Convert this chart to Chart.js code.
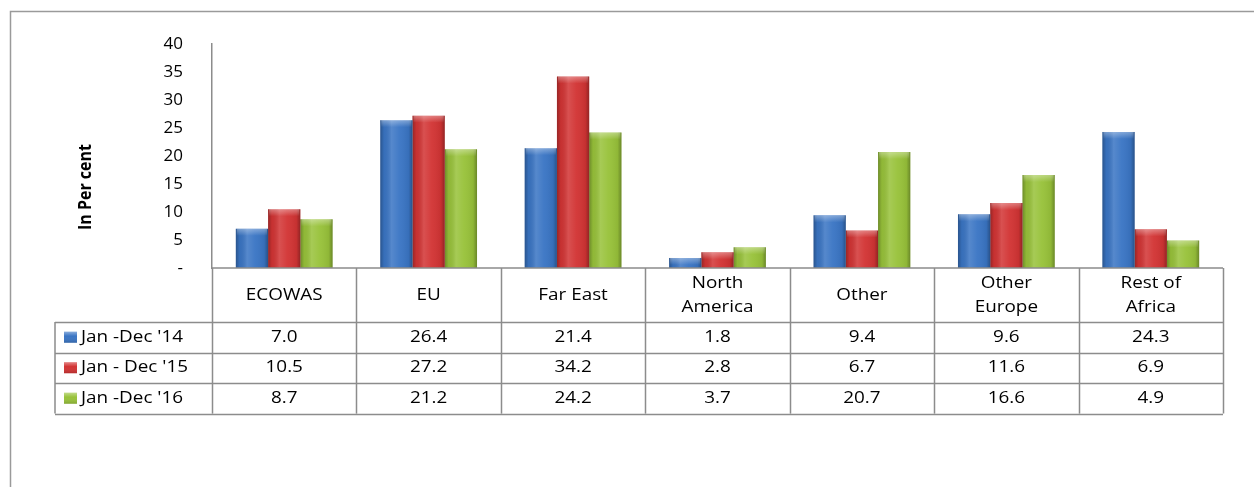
<!DOCTYPE html>
<html>
<head>
    <title>Non-oil exports by destination</title>
    <script src="https://cdn.jsdelivr.net/npm/chart.js"></script>
    <style>
        html, body { margin: 0; padding: 0; background: #fff; }
        #wrap { width: 1254px; height: 487px; position: relative; }
    </style>
</head>
<body>
    <div id="wrap">
        <canvas id="exportChart" width="1254" height="487"></canvas>
    </div>

    <script>
        // Data
        const categories = ['ECOWAS', 'EU', 'Far East', ['North', 'America'], 'Other', ['Other', 'Europe'], ['Rest of', 'Africa']];
        const seriesNames = ["Jan -Dec '14", "Jan - Dec '15", "Jan -Dec '16"];
        const values14 = [7.0, 26.4, 21.4, 1.8, 9.4, 9.6, 24.3];
        const values15 = [10.5, 27.2, 34.2, 2.8, 6.7, 11.6, 6.9];
        const values16 = [8.7, 21.2, 24.2, 3.7, 20.7, 16.6, 4.9];
        const yTicks = [0, 5, 10, 15, 20, 25, 30, 35, 40];
        const yTitle = 'In Per cent';

        const colors = ['#3a75c4', '#d23434', '#98c23a'];
        const FONT = '"Open Sans", "Liberation Sans", sans-serif';
        const GRID = '#8c8c8c';

        // glossy look on top of each bar, using the bar geometry from Chart.js
        const glossPlugin = {
            id: 'gloss',
            afterDatasetsDraw(chart) {
                const ctx = chart.ctx;
                chart.data.datasets.forEach((ds, di) => {
                    const meta = chart.getDatasetMeta(di);
                    meta.data.forEach(bar => {
                        const left = bar.x - bar.width / 2;
                        const top = bar.y;
                        const h = bar.base - bar.y;
                        const g = ctx.createLinearGradient(left, 0, left + bar.width, 0);
                        g.addColorStop(0, 'rgba(0,0,0,0.28)');
                        g.addColorStop(0.12, 'rgba(0,0,0,0.05)');
                        g.addColorStop(0.35, 'rgba(255,255,255,0.14)');
                        g.addColorStop(0.6, 'rgba(255,255,255,0.04)');
                        g.addColorStop(0.88, 'rgba(0,0,0,0.06)');
                        g.addColorStop(1, 'rgba(0,0,0,0.3)');
                        ctx.save();
                        ctx.fillStyle = g;
                        ctx.fillRect(left, top, bar.width, h);
                        const capH = Math.min(7, h);
                        const cap = ctx.createLinearGradient(0, top, 0, top + capH);
                        cap.addColorStop(0, 'rgba(255,255,255,0.35)');
                        cap.addColorStop(1, 'rgba(255,255,255,0)');
                        ctx.fillStyle = cap;
                        ctx.fillRect(left + 1, top, bar.width - 2, capH);
                        ctx.restore();
                    });
                });
            }
        };

        // outer frame, y title and the data table under the plot
        const tablePlugin = {
            id: 'dataTable',
            beforeDraw(chart) {
                const ctx = chart.ctx;
                ctx.save();
                ctx.strokeStyle = '#9a9a9a';
                ctx.lineWidth = 1.5;
                ctx.beginPath();
                ctx.moveTo(10.5, 487);
                ctx.lineTo(10.5, 11.5);
                ctx.lineTo(1254, 11.5);
                ctx.stroke();
                ctx.restore();
            },
            afterDraw(chart) {
                const ctx = chart.ctx;
                const xs = chart.scales.x;
                const area = chart.chartArea;
                const n = categories.length;
                const colW = (area.right - area.left) / n;
                const top = area.bottom;
                const headerBottom = top + 54;
                const rowH = 30.5;
                const tableBottom = headerBottom + rowH * seriesNames.length;
                const legendLeft = 55;

                const stretchText = (txt, x, y) => {
                    ctx.save();
                    ctx.translate(x, y);
                    ctx.scale(1.18, 1);
                    ctx.fillText(txt, 0, 0);
                    ctx.restore();
                };

                ctx.save();
                ctx.strokeStyle = GRID;
                ctx.lineWidth = 1.5;
                ctx.beginPath();
                // top line (category axis)
                ctx.moveTo(area.left, top);
                ctx.lineTo(area.right, top);
                // vertical dividers
                for (let i = 0; i <= n; i++) {
                    const x = Math.round(area.left + i * colW) + 0.5;
                    ctx.moveTo(x, top);
                    ctx.lineTo(x, tableBottom);
                }
                ctx.moveTo(legendLeft, headerBottom);
                ctx.lineTo(legendLeft, tableBottom);
                // horizontal rows
                for (let r = 0; r <= seriesNames.length; r++) {
                    const y = Math.round(headerBottom + r * rowH) + 0.5;
                    ctx.moveTo(legendLeft, y);
                    ctx.lineTo(area.right, y);
                }
                ctx.stroke();

                ctx.fillStyle = '#000';
                ctx.font = '16px ' + FONT;
                ctx.textAlign = 'center';
                ctx.textBaseline = 'middle';

                // header labels
                categories.forEach((lab, i) => {
                    const cx = xs.getPixelForValue(i);
                    const mid = (top + headerBottom) / 2;
                    if (Array.isArray(lab)) {
                        stretchText(lab[0], cx, mid - 12);
                        stretchText(lab[1], cx, mid + 12);
                    } else {
                        stretchText(lab, cx, mid);
                    }
                });

                // rows
                const allValues = [values14, values15, values16];
                allValues.forEach((vals, r) => {
                    const cy = headerBottom + (r + 0.5) * rowH;
                    ctx.textAlign = 'center';
                    vals.forEach((v, i) => {
                        stretchText(v.toFixed(1), xs.getPixelForValue(i), cy);
                    });
                    // legend key
                    const kx = 64, kw = 13, kh = 11;
                    ctx.fillStyle = colors[r];
                    ctx.fillRect(kx, cy - kh / 2, kw, kh);
                    const kg = ctx.createLinearGradient(0, cy - kh / 2, 0, cy + kh / 2);
                    kg.addColorStop(0, 'rgba(255,255,255,0.4)');
                    kg.addColorStop(0.4, 'rgba(255,255,255,0)');
                    kg.addColorStop(1, 'rgba(0,0,0,0.15)');
                    ctx.fillStyle = kg;
                    ctx.fillRect(kx, cy - kh / 2, kw, kh);
                    ctx.fillStyle = '#000';
                    ctx.textAlign = 'left';
                    stretchText(seriesNames[r], 81, cy);
                    ctx.textAlign = 'center';
                });

                // y axis title
                ctx.font = 'bold 16px ' + FONT;
                ctx.translate(86, 187);
                ctx.rotate(-Math.PI / 2);
                ctx.scale(1, 1.1);
                ctx.fillText(yTitle, 0, 0);
                ctx.restore();
            }
        };

        const ctx = document.getElementById('exportChart').getContext('2d');
        const exportChart = new Chart(ctx, {
            type: 'bar',
            data: {
                labels: categories,
                datasets: [values14, values15, values16].map((vals, i) => ({
                    label: seriesNames[i],
                    data: vals,
                    backgroundColor: colors[i],
                    borderWidth: 0,
                    categoryPercentage: 0.67,
                    barPercentage: 1.0
                }))
            },
            options: {
                responsive: false,
                animation: false,
                layout: { padding: { left: 0, right: 31, top: 44, bottom: 219 } },
                plugins: {
                    legend: { display: false },
                    tooltip: { enabled: false }
                },
                scales: {
                    x: { display: false },
                    y: {
                        min: 0,
                        max: 40,
                        afterFit: (scale) => { scale.width = 212; },
                        afterBuildTicks: (scale) => { scale.ticks = yTicks.map(v => ({ value: v })); },
                        grid: { display: false, drawTicks: false },
                        border: { display: true, color: GRID, width: 1.5 },
                        ticks: {
                            padding: 29,
                            color: '#000',
                            font: { family: FONT, size: 17 },
                            callback: (v) => v === 0 ? '-' : v
                        }
                    }
                }
            },
            plugins: [glossPlugin, tablePlugin]
        });
    </script>
</body>
</html>
